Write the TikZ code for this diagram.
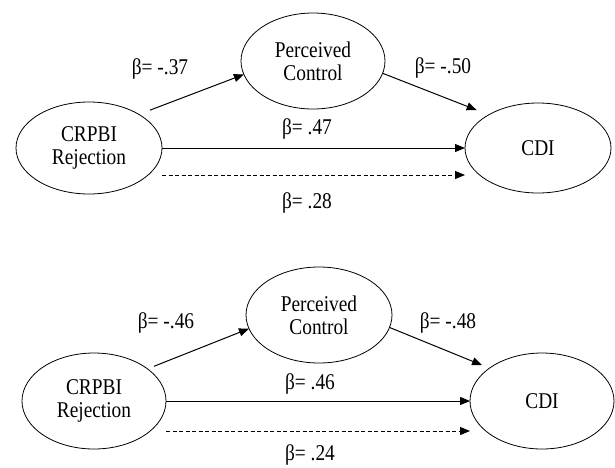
\documentclass[tikz,border=0pt]{standalone}
\usepackage{fontspec}
\setmainfont[FakeStretch=0.86]{Liberation Serif}
\usetikzlibrary{arrows.meta, shapes.geometric}

\begin{document}
\begin{tikzpicture}[
    x=1pt, y=-1pt,
    >={Triangle[length=10pt, width=8pt]},
    var/.style={draw, ellipse, line width=0.8pt, inner sep=0pt, outer sep=0pt, align=center, font=\fontsize{22.5}{23}\selectfont},
    coef/.style={font=\fontsize{22.5}{23}\selectfont},
    link/.style={->, line width=1pt},
]
    \useasboundingbox (0,0) rectangle (615,467);

    % first model
    \node[var, minimum width=146pt, minimum height=92pt] (rej1) at (89,148) {CRPBI\\Rejection};
    \node[var, minimum width=144pt, minimum height=96pt] (pc1) at (313,61) {Perceived\\Control};
    \node[var, minimum width=146pt, minimum height=90pt] (cdi1) at (538,148) {CDI};
    \draw[link, shorten <=12pt] (rej1.34) -- (pc1.191);
    \draw[link, shorten >=13pt] (pc1.-10) -- (cdi1.146);
    \draw[link] (rej1.east) -- (cdi1.west);
    \draw[link, dash pattern=on 4pt off 2.5pt] ([yshift=-27pt]rej1.east) -- ([yshift=-27pt]cdi1.west);
    \node[coef] (b11) at (160,69) {β= -.37};
    \node[coef] (b12) at (443,68) {β= -.50};
    \node[coef] (b13) at (307,129) {β= .47};
    \node[coef] (b14) at (307,203) {β= .28};

    % second model
    \node[var, minimum width=144pt, minimum height=96pt] (rej2) at (94,401) {CRPBI\\Rejection};
    \node[var, minimum width=146pt, minimum height=96pt] (pc2) at (319,315) {Perceived\\Control};
    \node[var, minimum width=144pt, minimum height=96pt] (cdi2) at (542,401) {CDI};
    \draw[link, shorten <=7pt] (rej2.31) -- (pc2.191);
    \draw[link, shorten >=8pt] (pc2.-10) -- (cdi2.148);
    \draw[link] (rej2.east) -- (cdi2.west);
    \draw[link, dash pattern=on 4pt off 2.5pt] ([yshift=-30pt]rej2.east) -- ([yshift=-30pt]cdi2.west);
    \node[coef] (b21) at (166,323) {β= -.46};
    \node[coef] (b22) at (448,323) {β= -.48};
    \node[coef] (b23) at (310,384) {β= .46};
    \node[coef] (b24) at (310,455) {β= .24};
\end{tikzpicture}
\end{document}
